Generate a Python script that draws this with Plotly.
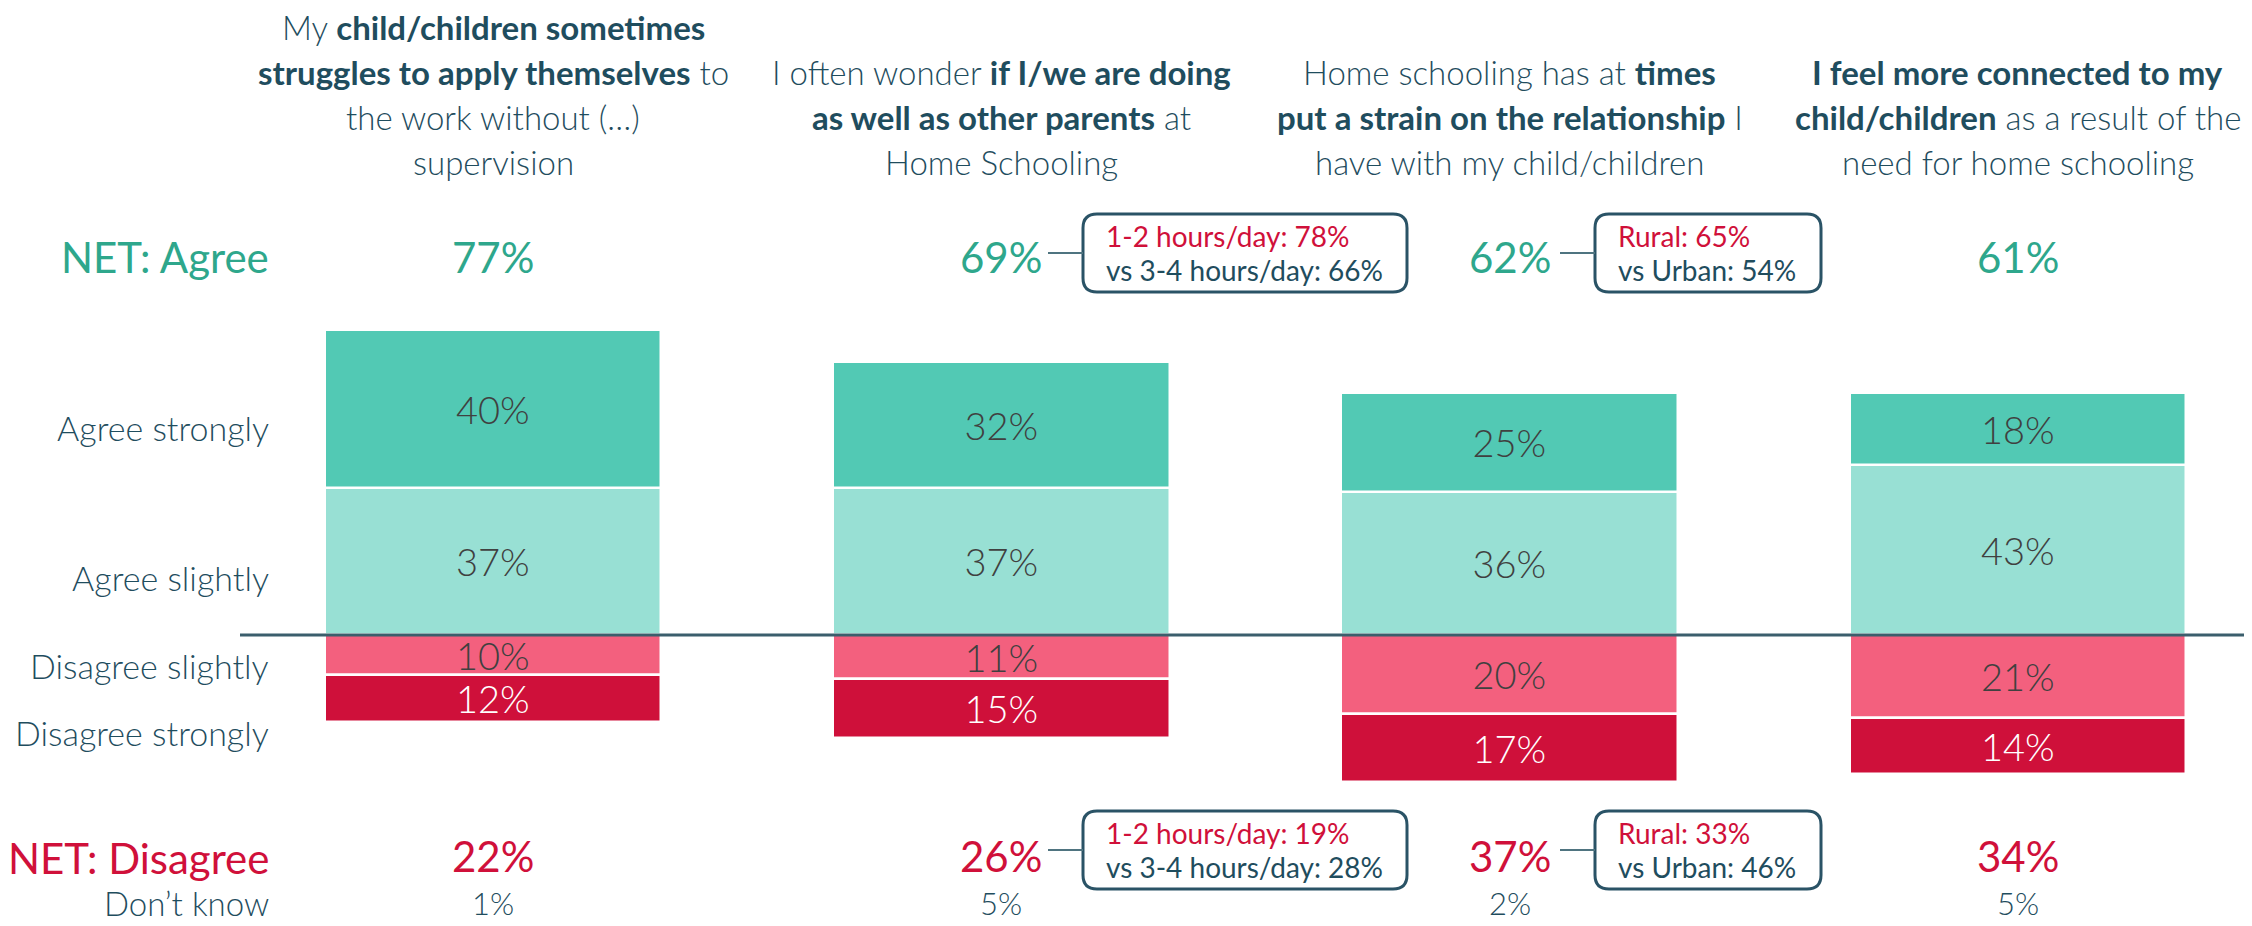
import plotly.graph_objects as go

# ---------------- data ----------------
categories = ["Q1", "Q2", "Q3", "Q4"]
header_lines = [
    ["My <b>child/children sometimes</b>", "<b>struggles to apply themselves</b> to", "the work without (…)", "supervision"],
    ["I often wonder <b>if I/we are doing</b>", "<b>as well as other parents</b> at", "Home Schooling"],
    ["Home schooling has at <b>times</b>", "<b>put a strain on the relationship</b> I", "have with my child/children"],
    ["<b>I feel more connected to my</b>", "<b>child/children</b> as a result of the", "need for home schooling"],
]
agree_strongly = [40, 32, 25, 18]
agree_slightly = [37, 37, 36, 43]
disagree_slightly = [10, 11, 20, 21]
disagree_strongly = [12, 15, 17, 14]
net_agree = [77, 69, 62, 61]
net_disagree = [22, 26, 37, 34]
dont_know = [1, 5, 2, 5]
callout_agree = [None, ["1-2 hours/day: 78%", "vs 3-4 hours/day: 66%"], ["Rural: 65%", "vs Urban: 54%"], None]
callout_disagree = [None, ["1-2 hours/day: 19%", "vs 3-4 hours/day: 28%"], ["Rural: 33%", "vs Urban: 46%"], None]
row_labels = ["NET: Agree", "Agree strongly", "Agree slightly", "Disagree slightly", "Disagree strongly", "NET: Disagree", "Don’t know"]

# ---------------- style ----------------
OFF = 8                      # page body margin
W, H = 2252 - OFF, 926 - OFF
FONT = "Lato"
C_DARK = "#1F4D5E"
C_TEAL_TXT = "#2EA78C"
C_RED_TXT = "#D0103A"
C_AS = "#52C9B4"
C_AL = "#98E0D4"
C_DL = "#F3607E"
C_DS = "#CF103A"
C_LBL = "#404040"

PX0 = 493.0      # page pixel of first category center
PXU = 508.3      # pixels per category
PY0 = 635.0      # page pixel of zero line
PYU = 3.96       # pixels per percentage point

xr = [-(PX0 - OFF) / PXU, (W - (PX0 - OFF)) / PXU]
yr = [-(H - (PY0 - OFF)) / PYU, (PY0 - OFF) / PYU]

def xp(px):
    return (px - OFF) / W

def yp(py):
    return 1 - (py - OFF) / H

fig = go.Figure()
xs = list(range(len(categories)))

def bar(vals, color, txtcolor, name, sign=1):
    fig.add_trace(go.Bar(
        x=xs, y=[sign * v for v in vals], name=name,
        marker=dict(color=color, line=dict(color="white", width=2.5)),
        width=0.662,
        text=[f"{v}%" for v in vals], textposition="inside",
        insidetextanchor="middle", constraintext="none", textangle=0,
        textfont=dict(family=FONT, size=38, color=txtcolor, weight=300),
        hoverinfo="skip", showlegend=False,
    ))

bar(agree_slightly, C_AL, C_LBL, "Agree slightly")
bar(agree_strongly, C_AS, C_LBL, "Agree strongly")
bar(disagree_slightly, C_DL, C_LBL, "Disagree slightly", -1)
bar(disagree_strongly, C_DS, "white", "Disagree strongly", -1)

ann = []
shapes = []

# headers
line_py = [27, 72, 117, 162]
for i, lines in enumerate(header_lines):
    offs = 4 - len(lines)
    for j, t in enumerate(lines):
        ann.append(dict(x=i, xref="x", y=yp(line_py[j + offs]), yref="paper", text=t,
                        showarrow=False, xanchor="center", yanchor="middle",
                        font=dict(family=FONT, size=33, color=C_DARK, weight=300)))

# left row labels
label_py = [257, 427, 577, 665, 732, 858, 903]
label_style = [
    dict(size=42, color=C_TEAL_TXT, weight=400),
    dict(size=34, color=C_DARK, weight=300),
    dict(size=34, color=C_DARK, weight=300),
    dict(size=34, color=C_DARK, weight=300),
    dict(size=34, color=C_DARK, weight=300),
    dict(size=42, color=C_RED_TXT, weight=400),
    dict(size=33, color=C_DARK, weight=300),
]
for t, py, st in zip(row_labels, label_py, label_style):
    ann.append(dict(x=xp(271), xref="paper", y=yp(py), yref="paper", text=t,
                    showarrow=False, xanchor="right", yanchor="middle",
                    font=dict(family=FONT, **st)))

# NET values and don't know
for i in xs:
    ann.append(dict(x=i, xref="x", y=yp(257), yref="paper", text=f"{net_agree[i]}%",
                    showarrow=False, xanchor="center", yanchor="middle",
                    font=dict(family=FONT, size=42, color=C_TEAL_TXT, weight=400)))
    ann.append(dict(x=i, xref="x", y=yp(856), yref="paper", text=f"{net_disagree[i]}%",
                    showarrow=False, xanchor="center", yanchor="middle",
                    font=dict(family=FONT, size=42, color=C_RED_TXT, weight=400)))
    ann.append(dict(x=i, xref="x", y=yp(903), yref="paper", text=f"{dont_know[i]}%",
                    showarrow=False, xanchor="center", yanchor="middle",
                    font=dict(family=FONT, size=31, color=C_DARK, weight=300)))

# callout boxes
def rounded(x0, y0, x1, y1, r=14):
    rx, ry = r / W, r / H
    X0, X1 = xp(x0), xp(x1)
    Y0, Y1 = yp(y0), yp(y1)  # Y0 top, Y1 bottom
    return (f"M {X0+rx},{Y0} L {X1-rx},{Y0} Q {X1},{Y0} {X1},{Y0-ry} "
            f"L {X1},{Y1+ry} Q {X1},{Y1} {X1-rx},{Y1} L {X0+rx},{Y1} "
            f"Q {X0},{Y1} {X0},{Y1+ry} L {X0},{Y0-ry} Q {X0},{Y0} {X0+rx},{Y0} Z")

box_px = {1: (1083, 1407), 2: (1595, 1821)}
val_right = {1: 1048, 2: 1560}
for callouts, ymid in ((callout_agree, 253), (callout_disagree, 850)):
    for i, c in enumerate(callouts):
        if not c:
            continue
        bx0, bx1 = box_px[i]
        shapes.append(dict(type="path", path=rounded(bx0, ymid - 39, bx1, ymid + 39),
                           xref="paper", yref="paper", line=dict(color="#2A5366", width=3),
                           fillcolor="rgba(0,0,0,0)"))
        shapes.append(dict(type="line", xref="paper", yref="paper",
                           x0=xp(val_right[i]), x1=xp(bx0), y0=yp(ymid), y1=yp(ymid),
                           line=dict(color="#4F7480", width=2)))
        ann.append(dict(x=xp(bx0 + 21), xref="paper", y=yp(ymid - 17), yref="paper", text=c[0],
                        showarrow=False, xanchor="left", yanchor="middle",
                        font=dict(family=FONT, size=28, color=C_RED_TXT, weight=400)))
        ann.append(dict(x=xp(bx0 + 21), xref="paper", y=yp(ymid + 17), yref="paper", text=c[1],
                        showarrow=False, xanchor="left", yanchor="middle",
                        font=dict(family=FONT, size=28, color=C_DARK, weight=400)))

# zero line
shapes.append(dict(type="line", xref="paper", yref="y", x0=xp(240), x1=1, y0=0, y1=0,
                   line=dict(color="#3B5E6C", width=3), layer="above"))
# small red corner mark
shapes.append(dict(type="line", xref="paper", yref="paper", x0=xp(2251), x1=xp(2249),
                   y0=yp(898), y1=yp(926), line=dict(color=C_DS, width=2)))

fig.update_layout(
    width=W, height=H, margin=dict(l=0, r=0, t=0, b=0),
    paper_bgcolor="white", plot_bgcolor="white",
    barmode="relative", bargap=0,
    xaxis=dict(range=xr, visible=False, fixedrange=True),
    yaxis=dict(range=yr, visible=False, fixedrange=True),
    annotations=ann, shapes=shapes, showlegend=False,
)

fig.write_html("out.html")
